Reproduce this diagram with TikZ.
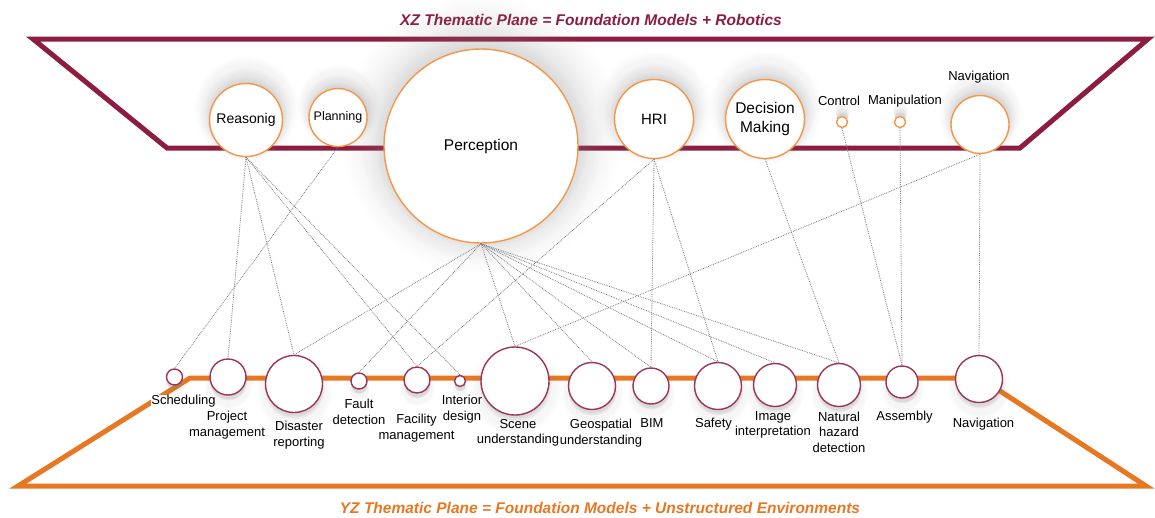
\documentclass[tikz,border=0pt]{standalone}
\usepackage{fontspec}
\setmainfont{Liberation Sans}
\usetikzlibrary{shadows,fadings}

\definecolor{asumaroon}{RGB}{140,29,64}
\definecolor{asuorange}{RGB}{232,119,34}
\definecolor{ringorange}{RGB}{246,150,72}
\definecolor{ringmaroon}{RGB}{158,52,88}
\definecolor{linkgray}{RGB}{125,125,125}

\begin{document}
\begin{tikzpicture}[x=1pt,y=-1pt,
  topc/.style={circle, draw=ringorange, line width=1.4pt, fill=white, inner sep=0pt, align=center,
    circular drop shadow={shadow scale=1.45, shadow xshift=0pt, shadow yshift=8pt, fill=gray, opacity=.08},
    circular drop shadow={shadow scale=1.25, shadow xshift=0pt, shadow yshift=6pt, fill=gray, opacity=.12},
    circular drop shadow={shadow scale=1.1, shadow xshift=0pt, shadow yshift=4pt, fill=gray, opacity=.16}},
  botc/.style={circle, draw=ringmaroon, line width=1.4pt, fill=white, inner sep=0pt,
    circular drop shadow={shadow scale=1.35, shadow xshift=0pt, shadow yshift=-6pt, fill=gray, opacity=.07},
    circular drop shadow={shadow scale=1.08, shadow xshift=0pt, shadow yshift=-4pt, fill=gray, opacity=.25}},
  lbl/.style={align=center, font=\fontsize{13}{15.5}\selectfont, inner sep=1pt},
  link/.style={densely dotted, draw=linkgray, line width=.8pt}]

  \useasboundingbox (0,0) rectangle (1155,517);

  % the two planes
  \draw[asumaroon, line width=5pt] (33,39) -- (1148,39) -- (1020,148) -- (167,148) -- cycle;
  \draw[asuorange, line width=5pt] (18,486) -- (190,378) -- (980,378) -- (1146,486) -- cycle;

  \node[font=\fontsize{15.5}{18}\selectfont\bfseries\itshape, text=asumaroon, anchor=base] (xztitle) at (591,25)
    {XZ Thematic Plane = Foundation Models + Robotics};
  \node[font=\fontsize{15.5}{18}\selectfont\bfseries\itshape, text=asuorange, anchor=base] (yztitle) at (600,513)
    {YZ Thematic Plane = Foundation Models + Unstructured Environments};

  % robotics topics (top)
  \node[topc, minimum size=194pt, font=\fontsize{15.5}{18}\selectfont] (perc) at (481,146) {Perception};
  \node[topc, minimum size=73pt, font=\fontsize{14}{17}\selectfont] (reas) at (246,120) {Reasonig};
  \node[topc, minimum size=58pt, font=\fontsize{12.5}{15}\selectfont] (plan) at (338,117.5) {Planning};
  \node[topc, minimum size=79pt, font=\fontsize{15}{18}\selectfont] (hri) at (654,119) {HRI};
  \node[topc, minimum size=79pt, font=\fontsize{15.5}{19}\selectfont] (dec) at (765,119) {Decision\\Making};
  \node[topc, minimum size=11pt] (ctrl) at (842,122) {};
  \node[topc, minimum size=11pt] (manip) at (900,122) {};
  \node[topc, minimum size=58pt] (navt) at (980,124.5) {};

  \node[lbl] (ctrltxt) at (839,101) {Control};
  \node[lbl] (maniptxt) at (905,101) {Manipulation};
  \node[lbl] (navttxt) at (979,77) {Navigation};

  % environment topics (bottom)
  \node[botc, minimum size=16pt] (sched) at (174.5,377) {};
  \node[botc, minimum size=36pt] (projm) at (228,377) {};
  \node[botc, minimum size=57pt] (disas) at (294,384) {};
  \node[botc, minimum size=16pt] (fault) at (359,381) {};
  \node[botc, minimum size=26pt] (facil) at (417,380) {};
  \node[botc, minimum size=11pt] (inter) at (460,381) {};
  \node[botc, minimum size=68pt] (scene) at (515,381) {};
  \node[botc, minimum size=47pt] (geo) at (592,386) {};
  \node[botc, minimum size=36pt] (bim) at (651,386) {};
  \node[botc, minimum size=47pt] (safe) at (718,386) {};
  \node[botc, minimum size=43pt] (img) at (775,385) {};
  \node[botc, minimum size=43pt] (nat) at (839,385) {};
  \node[botc, minimum size=32pt] (assem) at (902,382) {};
  \node[botc, minimum size=47pt] (navb) at (979,379) {};

  \node[lbl, fill=white, inner sep=0pt] (schedtxt) at (183.5,401) {Scheduling};
  \node[lbl] (projmtxt) at (227,425) {Project\\management};
  \node[lbl] (disastxt) at (299,435) {Disaster\\reporting};
  \node[lbl] (faulttxt) at (359,412) {Fault\\detection};
  \node[lbl] (faciltxt) at (416.5,428) {Facility\\management};
  \node[lbl] (intertxt) at (462,409) {Interior\\design};
  \node[lbl] (scenetxt) at (518,433) {Scene\\understanding};
  \node[lbl] (geotxt) at (601,433) {Geospatial\\understanding};
  \node[lbl] (bimtxt) at (652,423) {BIM};
  \node[lbl] (safetxt) at (713.5,424) {Safety};
  \node[lbl] (imgtxt) at (773,425) {Image\\interpretation};
  \node[lbl] (nattxt) at (839,432) {Natural\\hazard\\detection};
  \node[lbl] (assemtxt) at (904.5,417) {Assembly};
  \node[lbl] (navbtxt) at (983.5,424) {Navigation};

  % links between the planes
  \draw[link] (plan.south) -- (sched.north);
  \draw[link] (reas.south) -- (projm.north);
  \draw[link] (reas.south) -- (disas.north);
  \draw[link] (reas.south) -- (facil.north);
  \draw[link] (reas.south) -- (inter.north);
  \draw[link] (perc.south) -- (disas.north);
  \draw[link] (perc.south) -- (fault.north);
  \draw[link] (perc.south) -- (scene.north);
  \draw[link] (perc.south) -- (geo.north);
  \draw[link] (perc.south) -- (bim.north);
  \draw[link] (perc.south) -- (safe.north);
  \draw[link] (perc.south) -- (img.north);
  \draw[link] (perc.south) -- (nat.north);
  \draw[link] (hri.south) -- (facil.north);
  \draw[link] (hri.south) -- (bim.north);
  \draw[link] (hri.south) -- (safe.north);
  \draw[link] (dec.south) -- (nat.north);
  \draw[link] (ctrl.south) -- (assem.north);
  \draw[link] (manip.south) -- (assem.north);
  \draw[link] (navt.south) -- (scene.north);
  \draw[link] (navt.south) -- (navb.north);
\end{tikzpicture}
\end{document}
